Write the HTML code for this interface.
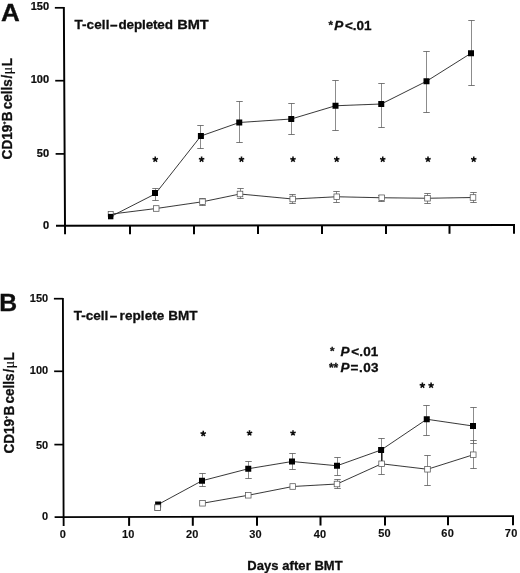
<!DOCTYPE html>
<html><head><meta charset="utf-8"><title>B-cell recovery after BMT</title>
<style>
html,body{margin:0;padding:0;background:#fff;}
body{width:520px;height:573px;overflow:hidden;font-family:"Liberation Sans",sans-serif;}
svg{display:block}
text{font-family:"Liberation Sans",sans-serif;fill:#0c0c0c;stroke:#0c0c0c;stroke-width:0.3px;}
.b{font-weight:bold}
.t{stroke-width:0.12px}
.t2{stroke-width:0.18px}
.ta{stroke-width:0.24px}
.s{font-family:"Liberation Serif",serif;font-weight:normal;stroke-width:0.1px}
</style></head><body>
<svg width="520" height="573" viewBox="0 0 520 573" style="opacity:0.999">
<defs><filter id="soft" x="0" y="0" width="520" height="573" filterUnits="userSpaceOnUse"><feGaussianBlur stdDeviation="0.3"/></filter></defs>
<rect width="520" height="573" fill="#fff"/>
<g filter="url(#soft)">
<path d="M63.85 7L65 225.75L65.05 234.35" stroke="#000" stroke-width="1.95" fill="none" stroke-linejoin="miter"/>
<path d="M56 225.75L515 225.1" stroke="#000" stroke-width="2" fill="none"/>
<path d="M54.85 7.8H63.85" stroke="#000" stroke-width="1.7" fill="none"/>
<path d="M55.23 80.7H64.23" stroke="#000" stroke-width="1.7" fill="none"/>
<path d="M55.62 153.9H64.62" stroke="#000" stroke-width="1.7" fill="none"/>
<path d="M130 225.66V234.26" stroke="#000" stroke-width="2" fill="none"/>
<path d="M194 225.56V234.16" stroke="#000" stroke-width="2" fill="none"/>
<path d="M258 225.47V234.07" stroke="#000" stroke-width="2" fill="none"/>
<path d="M322 225.38V233.98" stroke="#000" stroke-width="2" fill="none"/>
<path d="M386 225.29V233.89" stroke="#000" stroke-width="2" fill="none"/>
<path d="M449.5 225.19V233.79" stroke="#000" stroke-width="2" fill="none"/>
<path d="M514 225.1V233.7" stroke="#000" stroke-width="2" fill="none"/>
<path d="M155.5 188.5V200.5" stroke="#666" stroke-width="0.75" fill="none"/>
<path d="M152.25 188.5H158.75M152.25 200.5H158.75" stroke="#585858" stroke-width="0.8" fill="none"/>
<path d="M200.5 125.5V148.5" stroke="#666" stroke-width="0.75" fill="none"/>
<path d="M197.25 125.5H203.75M197.25 148.5H203.75" stroke="#585858" stroke-width="0.8" fill="none"/>
<path d="M239.5 101.5V142.5" stroke="#666" stroke-width="0.75" fill="none"/>
<path d="M236.25 101.5H242.75M236.25 142.5H242.75" stroke="#585858" stroke-width="0.8" fill="none"/>
<path d="M291.5 103.5V134.5" stroke="#666" stroke-width="0.75" fill="none"/>
<path d="M288.25 103.5H294.75M288.25 134.5H294.75" stroke="#585858" stroke-width="0.8" fill="none"/>
<path d="M335.5 80.5V130.5" stroke="#666" stroke-width="0.75" fill="none"/>
<path d="M332.25 80.5H338.75M332.25 130.5H338.75" stroke="#585858" stroke-width="0.8" fill="none"/>
<path d="M381.5 83.5V127.5" stroke="#666" stroke-width="0.75" fill="none"/>
<path d="M378.25 83.5H384.75M378.25 127.5H384.75" stroke="#585858" stroke-width="0.8" fill="none"/>
<path d="M426.5 51.5V112.5" stroke="#666" stroke-width="0.75" fill="none"/>
<path d="M423.25 51.5H429.75M423.25 112.5H429.75" stroke="#585858" stroke-width="0.8" fill="none"/>
<path d="M471.5 20.5V85.5" stroke="#666" stroke-width="0.75" fill="none"/>
<path d="M468.25 20.5H474.75M468.25 85.5H474.75" stroke="#585858" stroke-width="0.8" fill="none"/>
<path d="M202.5 198.5V205.5" stroke="#666" stroke-width="0.75" fill="none"/>
<path d="M199.25 198.5H205.75M199.25 205.5H205.75" stroke="#585858" stroke-width="0.8" fill="none"/>
<path d="M240.5 188.5V198.5" stroke="#666" stroke-width="0.75" fill="none"/>
<path d="M237.25 188.5H243.75M237.25 198.5H243.75" stroke="#585858" stroke-width="0.8" fill="none"/>
<path d="M292.5 194.5V203.5" stroke="#666" stroke-width="0.75" fill="none"/>
<path d="M289.25 194.5H295.75M289.25 203.5H295.75" stroke="#585858" stroke-width="0.8" fill="none"/>
<path d="M336.5 191.5V202.5" stroke="#666" stroke-width="0.75" fill="none"/>
<path d="M333.25 191.5H339.75M333.25 202.5H339.75" stroke="#585858" stroke-width="0.8" fill="none"/>
<path d="M381.5 195.5V201.5" stroke="#666" stroke-width="0.75" fill="none"/>
<path d="M378.25 195.5H384.75M378.25 201.5H384.75" stroke="#585858" stroke-width="0.8" fill="none"/>
<path d="M427.5 193.5V203.5" stroke="#666" stroke-width="0.75" fill="none"/>
<path d="M424.25 193.5H430.75M424.25 203.5H430.75" stroke="#585858" stroke-width="0.8" fill="none"/>
<path d="M473.5 192.5V202.5" stroke="#666" stroke-width="0.75" fill="none"/>
<path d="M470.25 192.5H476.75M470.25 202.5H476.75" stroke="#585858" stroke-width="0.8" fill="none"/>
<polyline points="110.7,216.6 155.4,193.8 200.9,136 239.25,122.5 291.25,119 335.5,105.75 381.25,104 426.5,81.25 471,53.25" fill="none" stroke="#222" stroke-width="0.9"/>
<polyline points="110.6,214.2 156.2,208.5 202.5,201.75 240,194 292.75,199 336.75,196.75 381.75,197.75 427.5,198.25 473,197.5" fill="none" stroke="#222" stroke-width="0.9"/>
<rect x="108.2" y="211.5" width="5.0" height="5.0" fill="#fff" stroke="#555" stroke-width="0.75"/>
<rect x="153.4" y="205.7" width="5.6" height="5.6" fill="#fff" stroke="#555" stroke-width="0.75"/>
<rect x="199.7" y="198.95" width="5.6" height="5.6" fill="#fff" stroke="#555" stroke-width="0.75"/>
<rect x="237.2" y="191.2" width="5.6" height="5.6" fill="#fff" stroke="#555" stroke-width="0.75"/>
<rect x="289.95" y="196.2" width="5.6" height="5.6" fill="#fff" stroke="#555" stroke-width="0.75"/>
<rect x="333.95" y="193.95" width="5.6" height="5.6" fill="#fff" stroke="#555" stroke-width="0.75"/>
<rect x="378.95" y="194.95" width="5.6" height="5.6" fill="#fff" stroke="#555" stroke-width="0.75"/>
<rect x="424.7" y="195.45" width="5.6" height="5.6" fill="#fff" stroke="#555" stroke-width="0.75"/>
<rect x="470.2" y="194.7" width="5.6" height="5.6" fill="#fff" stroke="#555" stroke-width="0.75"/>
<rect x="108" y="213.9" width="5.4" height="5.4" fill="#000"/>
<rect x="152" y="190" width="6" height="6" fill="#000"/>
<rect x="197.9" y="133" width="6" height="6" fill="#000"/>
<rect x="236.25" y="119.5" width="6" height="6" fill="#000"/>
<rect x="288.25" y="116" width="6" height="6" fill="#000"/>
<rect x="332.5" y="102.75" width="6" height="6" fill="#000"/>
<rect x="378.25" y="101" width="6" height="6" fill="#000"/>
<rect x="423.5" y="78.25" width="6" height="6" fill="#000"/>
<rect x="468" y="50.25" width="6" height="6" fill="#000"/>
<path d="M155.25 159.4L155.25 156.55M155.25 159.4L157.96 158.52M155.25 159.4L156.93 161.71M155.25 159.4L153.57 161.71M155.25 159.4L152.54 158.52" stroke="#111" stroke-width="1.55" fill="none" stroke-linecap="butt"/>
<path d="M201.6 159.4L201.6 156.55M201.6 159.4L204.31 158.52M201.6 159.4L203.28 161.71M201.6 159.4L199.92 161.71M201.6 159.4L198.89 158.52" stroke="#111" stroke-width="1.55" fill="none" stroke-linecap="butt"/>
<path d="M241.5 159.4L241.5 156.55M241.5 159.4L244.21 158.52M241.5 159.4L243.18 161.71M241.5 159.4L239.82 161.71M241.5 159.4L238.79 158.52" stroke="#111" stroke-width="1.55" fill="none" stroke-linecap="butt"/>
<path d="M293 159.4L293 156.55M293 159.4L295.71 158.52M293 159.4L294.68 161.71M293 159.4L291.32 161.71M293 159.4L290.29 158.52" stroke="#111" stroke-width="1.55" fill="none" stroke-linecap="butt"/>
<path d="M336.75 159.4L336.75 156.55M336.75 159.4L339.46 158.52M336.75 159.4L338.43 161.71M336.75 159.4L335.07 161.71M336.75 159.4L334.04 158.52" stroke="#111" stroke-width="1.55" fill="none" stroke-linecap="butt"/>
<path d="M382.75 159.4L382.75 156.55M382.75 159.4L385.46 158.52M382.75 159.4L384.43 161.71M382.75 159.4L381.07 161.71M382.75 159.4L380.04 158.52" stroke="#111" stroke-width="1.55" fill="none" stroke-linecap="butt"/>
<path d="M428 159.4L428 156.55M428 159.4L430.71 158.52M428 159.4L429.68 161.71M428 159.4L426.32 161.71M428 159.4L425.29 158.52" stroke="#111" stroke-width="1.55" fill="none" stroke-linecap="butt"/>
<path d="M473.75 159.4L473.75 156.55M473.75 159.4L476.46 158.52M473.75 159.4L475.43 161.71M473.75 159.4L472.07 161.71M473.75 159.4L471.04 158.52" stroke="#111" stroke-width="1.55" fill="none" stroke-linecap="butt"/>
<text transform="translate(49.1 10.3) scale(1.07 1)" font-size="10.3" text-anchor="end" class="b ta">150</text>
<text transform="translate(49.1 83) scale(1.07 1)" font-size="10.3" text-anchor="end" class="b ta">100</text>
<text transform="translate(49.1 157.3) scale(1.07 1)" font-size="10.3" text-anchor="end" class="b ta">50</text>
<text transform="translate(49.1 228.8) scale(1.07 1)" font-size="10.3" text-anchor="end" class="b ta">0</text>
<text transform="translate(0.9 21) scale(1.06 1)" font-size="24.6" class="b">A</text>
<text x="74.4" y="28.7" font-size="13.5" class="b" letter-spacing="0.1">T-cell</text>
<text x="110.1" y="28.7" font-size="13.5" class="b">–</text>
<text x="118.4" y="28.7" font-size="13.5" class="b" textLength="54.6" lengthAdjust="spacing">depleted</text>
<text x="177.2" y="28.7" font-size="13.5" class="b" textLength="31.6" lengthAdjust="spacingAndGlyphs">BMT</text>
<text x="328.4" y="28.6" font-size="11.5" class="b">*</text>
<text x="334.3" y="30" font-size="13.5" class="b" font-style="italic">P</text>
<text x="345" y="30" font-size="13.5" class="b" textLength="26.4" lengthAdjust="spacing">&lt;.01</text>
<text transform="translate(12.1 159.4) scale(1.03 1) rotate(-90)" font-size="13.5" letter-spacing="0.04" class="b">CD19<tspan font-size="5" dy="-6.2" dx="0.3">+</tspan><tspan dy="6.2" dx="0.2">B</tspan><tspan dx="-1.6"> cells</tspan><tspan dx="0.7">/</tspan><tspan class="s" dx="0.5">μ</tspan><tspan dx="0.6">L</tspan></text>
<path d="M62.9 297.9L63.6 517L63.65 526" stroke="#000" stroke-width="1.85" fill="none" stroke-linejoin="miter"/>
<path d="M54.6 517L514 516.2" stroke="#000" stroke-width="1.75" fill="none"/>
<path d="M53.9 298.7H62.9" stroke="#000" stroke-width="1.7" fill="none"/>
<path d="M54.13 371.3H63.13" stroke="#000" stroke-width="1.7" fill="none"/>
<path d="M54.37 444.6H63.37" stroke="#000" stroke-width="1.7" fill="none"/>
<path d="M129.1 516.88V525.88" stroke="#000" stroke-width="2" fill="none"/>
<path d="M192.8 516.77V525.77" stroke="#000" stroke-width="2" fill="none"/>
<path d="M257 516.66V525.66" stroke="#000" stroke-width="2" fill="none"/>
<path d="M320.5 516.54V525.54" stroke="#000" stroke-width="2" fill="none"/>
<path d="M385 516.43V525.43" stroke="#000" stroke-width="2" fill="none"/>
<path d="M448 516.32V525.32" stroke="#000" stroke-width="2" fill="none"/>
<path d="M513 516.2V525.2" stroke="#000" stroke-width="2" fill="none"/>
<path d="M202.5 473.5V486.5" stroke="#666" stroke-width="0.75" fill="none"/>
<path d="M199.25 473.5H205.75M199.25 486.5H205.75" stroke="#585858" stroke-width="0.8" fill="none"/>
<path d="M248.5 461.5V478.5" stroke="#666" stroke-width="0.75" fill="none"/>
<path d="M245.25 461.5H251.75M245.25 478.5H251.75" stroke="#585858" stroke-width="0.8" fill="none"/>
<path d="M292.5 453.5V469.5" stroke="#666" stroke-width="0.75" fill="none"/>
<path d="M289.25 453.5H295.75M289.25 469.5H295.75" stroke="#585858" stroke-width="0.8" fill="none"/>
<path d="M337.5 457.5V475.5" stroke="#666" stroke-width="0.75" fill="none"/>
<path d="M334.25 457.5H340.75M334.25 475.5H340.75" stroke="#585858" stroke-width="0.8" fill="none"/>
<path d="M381.5 438.5V458.5" stroke="#666" stroke-width="0.75" fill="none"/>
<path d="M378.25 438.5H384.75" stroke="#585858" stroke-width="0.8" fill="none"/>
<path d="M426.5 405.5V435.5" stroke="#666" stroke-width="0.75" fill="none"/>
<path d="M423.25 405.5H429.75M423.25 435.5H429.75" stroke="#585858" stroke-width="0.8" fill="none"/>
<path d="M473.5 407.5V443.5" stroke="#666" stroke-width="0.75" fill="none"/>
<path d="M470.25 407.5H476.75M470.25 443.5H476.75" stroke="#585858" stroke-width="0.8" fill="none"/>
<path d="M337.5 479.5V488.5" stroke="#666" stroke-width="0.75" fill="none"/>
<path d="M334.25 479.5H340.75M334.25 488.5H340.75" stroke="#585858" stroke-width="0.8" fill="none"/>
<path d="M381.5 462.5V474.5" stroke="#666" stroke-width="0.75" fill="none"/>
<path d="M378.25 474.5H384.75" stroke="#585858" stroke-width="0.8" fill="none"/>
<path d="M427.5 455.5V485.5" stroke="#666" stroke-width="0.75" fill="none"/>
<path d="M424.25 455.5H430.75M424.25 485.5H430.75" stroke="#585858" stroke-width="0.8" fill="none"/>
<path d="M473.5 440.5V468.5" stroke="#666" stroke-width="0.75" fill="none"/>
<path d="M470.25 440.5H476.75M470.25 468.5H476.75" stroke="#585858" stroke-width="0.8" fill="none"/>
<path d="M381.8 452V461.5" stroke="#1a1a1a" stroke-width="1.5" fill="none"/>
<polyline points="158.1,504.5 202,480.75 248.25,468.75 292,461.5 337,465.75 381.1,450 426.75,419.25 473,426" fill="none" stroke="#222" stroke-width="0.9"/>
<polyline points="202.5,503.25 248.25,495.25 292.75,486.5 337,484 381.6,463.8 427.5,469.25 473.25,454.75" fill="none" stroke="#222" stroke-width="0.9"/>
<rect x="154.8" y="504.8" width="5.6" height="5.6" fill="#fff" stroke="#555" stroke-width="0.75"/>
<rect x="199.7" y="500.45" width="5.6" height="5.6" fill="#fff" stroke="#555" stroke-width="0.75"/>
<rect x="245.45" y="492.45" width="5.6" height="5.6" fill="#fff" stroke="#555" stroke-width="0.75"/>
<rect x="289.95" y="483.7" width="5.6" height="5.6" fill="#fff" stroke="#555" stroke-width="0.75"/>
<rect x="334.2" y="481.2" width="5.6" height="5.6" fill="#fff" stroke="#555" stroke-width="0.75"/>
<rect x="378.8" y="461" width="5.6" height="5.6" fill="#fff" stroke="#555" stroke-width="0.75"/>
<rect x="424.7" y="466.45" width="5.6" height="5.6" fill="#fff" stroke="#555" stroke-width="0.75"/>
<rect x="470.45" y="451.95" width="5.6" height="5.6" fill="#fff" stroke="#555" stroke-width="0.75"/>
<rect x="155.1" y="501.5" width="6" height="6" fill="#000"/>
<rect x="199" y="477.75" width="6" height="6" fill="#000"/>
<rect x="245.25" y="465.75" width="6" height="6" fill="#000"/>
<rect x="289" y="458.5" width="6" height="6" fill="#000"/>
<rect x="334" y="462.75" width="6" height="6" fill="#000"/>
<rect x="378.1" y="447" width="6" height="6" fill="#000"/>
<rect x="423.75" y="416.25" width="6" height="6" fill="#000"/>
<rect x="470" y="423" width="6" height="6" fill="#000"/>
<rect x="154.8" y="504.8" width="5.6" height="5.6" fill="#fff" stroke="#555" stroke-width="0.75"/>
<path d="M203.25 433.7L203.25 430.85M203.25 433.7L205.96 432.82M203.25 433.7L204.93 436.01M203.25 433.7L201.57 436.01M203.25 433.7L200.54 432.82" stroke="#111" stroke-width="1.55" fill="none" stroke-linecap="butt"/>
<path d="M249.5 433.1L249.5 430.25M249.5 433.1L252.21 432.22M249.5 433.1L251.18 435.41M249.5 433.1L247.82 435.41M249.5 433.1L246.79 432.22" stroke="#111" stroke-width="1.55" fill="none" stroke-linecap="butt"/>
<path d="M293 433.1L293 430.25M293 433.1L295.71 432.22M293 433.1L294.68 435.41M293 433.1L291.32 435.41M293 433.1L290.29 432.22" stroke="#111" stroke-width="1.55" fill="none" stroke-linecap="butt"/>
<path d="M422.4 385.4L422.4 382.55M422.4 385.4L425.11 384.52M422.4 385.4L424.08 387.71M422.4 385.4L420.72 387.71M422.4 385.4L419.69 384.52" stroke="#111" stroke-width="1.55" fill="none" stroke-linecap="butt"/>
<path d="M431.1 385.4L431.1 382.55M431.1 385.4L433.81 384.52M431.1 385.4L432.78 387.71M431.1 385.4L429.42 387.71M431.1 385.4L428.39 384.52" stroke="#111" stroke-width="1.55" fill="none" stroke-linecap="butt"/>
<text transform="translate(48.2 301.9) scale(1.07 1)" font-size="10.3" text-anchor="end" class="b t">150</text>
<text transform="translate(48.2 373.8) scale(1.07 1)" font-size="10.3" text-anchor="end" class="b t">100</text>
<text transform="translate(48.2 448.7) scale(1.07 1)" font-size="10.3" text-anchor="end" class="b t">50</text>
<text transform="translate(48.2 519.5) scale(1.07 1)" font-size="10.3" text-anchor="end" class="b t">0</text>
<text transform="translate(62.8 538) scale(1.07 1)" font-size="10.3" letter-spacing="0.2" text-anchor="middle" class="b t">0</text>
<text transform="translate(128.3 537.88) scale(1.07 1)" font-size="10.3" letter-spacing="0.2" text-anchor="middle" class="b t">10</text>
<text transform="translate(192.3 537.77) scale(1.07 1)" font-size="10.3" letter-spacing="0.2" text-anchor="middle" class="b t">20</text>
<text transform="translate(255.5 537.66) scale(1.07 1)" font-size="10.3" letter-spacing="0.2" text-anchor="middle" class="b t">30</text>
<text transform="translate(320 537.54) scale(1.07 1)" font-size="10.3" letter-spacing="0.2" text-anchor="middle" class="b t">40</text>
<text transform="translate(384.5 537.43) scale(1.07 1)" font-size="10.3" letter-spacing="0.2" text-anchor="middle" class="b t">50</text>
<text transform="translate(447.7 537.32) scale(1.07 1)" font-size="10.3" letter-spacing="0.2" text-anchor="middle" class="b t">60</text>
<text transform="translate(511.2 537.2) scale(1.07 1)" font-size="10.3" letter-spacing="0.2" text-anchor="middle" class="b t">70</text>
<text transform="translate(-0.7 311.1) scale(1.03 1)" font-size="24" class="b">B</text>
<text x="73.7" y="320.4" font-size="13.5" class="b">T-cell</text>
<text x="109.8" y="320.4" font-size="13.5" class="b">–</text>
<text x="119.6" y="320.4" font-size="13.5" class="b" textLength="78.0" lengthAdjust="spacing">replete BMT</text>
<text x="330" y="354.8" font-size="11.5" class="b">*</text>
<text x="340.4" y="356.3" font-size="13.5" class="b" font-style="italic">P</text>
<text x="351.2" y="356.3" font-size="13.5" class="b" textLength="27.1" lengthAdjust="spacing">&lt;.01</text>
<text x="328.9" y="371.9" font-size="12" class="b">**</text>
<text x="340.4" y="372.1" font-size="13.5" class="b" font-style="italic">P</text>
<text x="350.6" y="372.1" font-size="13.5" class="b" textLength="28" lengthAdjust="spacing">=.03</text>
<text transform="translate(14.4 453.6) scale(1.03 1) rotate(-90)" font-size="13.5" letter-spacing="0.04" class="b">CD19<tspan font-size="5" dy="-6.2" dx="0.3">+</tspan><tspan dy="6.2" dx="0.2">B</tspan><tspan dx="-1.6"> cells</tspan><tspan dx="0.7">/</tspan><tspan class="s" dx="0.5">μ</tspan><tspan dx="0.6">L</tspan></text>
<text x="247.3" y="569.6" font-size="13" class="b" textLength="95.4" lengthAdjust="spacing">Days after BMT</text>
</g>
</svg>
</body></html>
